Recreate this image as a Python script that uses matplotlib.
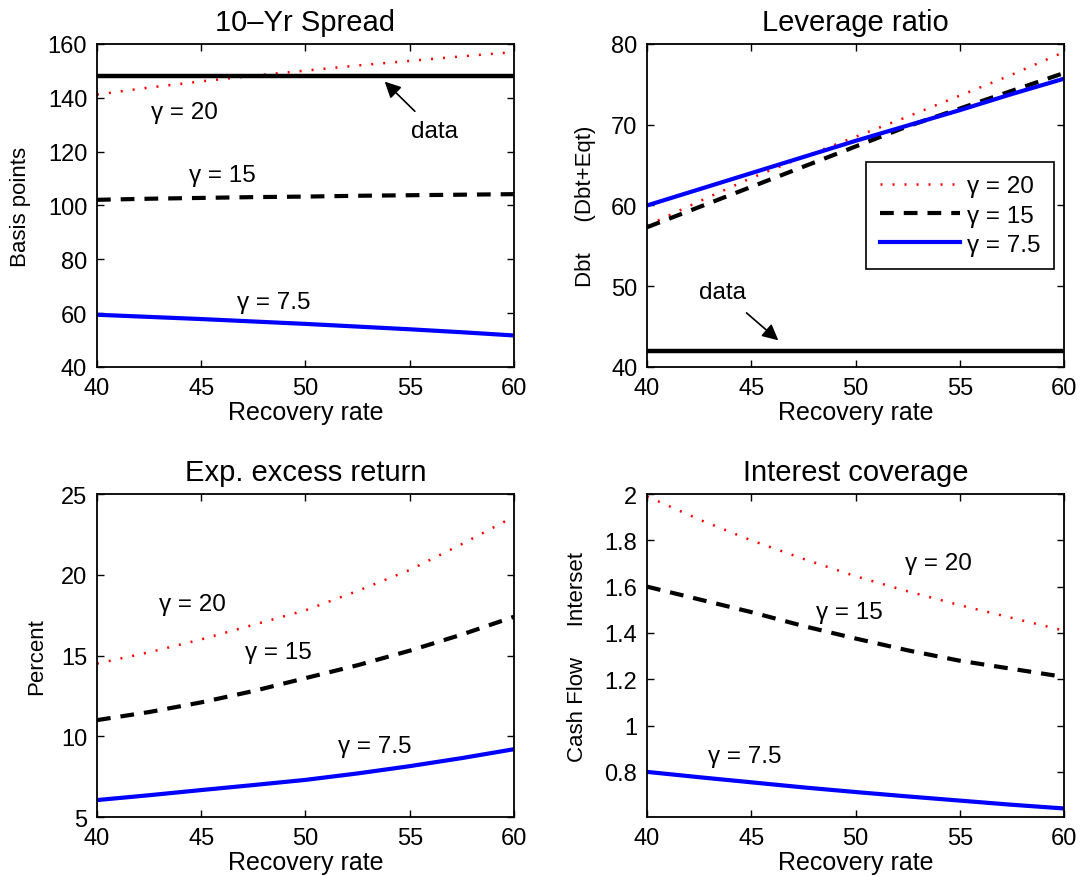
import matplotlib.pyplot as plt
from matplotlib.ticker import FormatStrFormatter

plt.rcParams['font.family'] = ['Liberation Sans', 'DejaVu Sans']

# recovery rate grid (read every 2.5)
rr = [40, 42.5, 45, 47.5, 50, 52.5, 55, 57.5, 60]

# 10-Yr spread (basis points)
spread_g20 = [141.2, 143.8, 146.1, 148.2, 150.1, 152.0, 153.7, 155.4, 157.0]
spread_g15 = [102.1, 102.5, 102.8, 103.1, 103.3, 103.6, 103.8, 104.0, 104.2]
spread_g75 = [59.4, 58.6, 57.8, 56.9, 56.0, 55.0, 54.0, 52.9, 51.7]
spread_data = 148

# leverage ratio
lev_g20 = [57.5, 60.5, 63.4, 66.0, 68.5, 71.0, 73.6, 76.2, 79.0]
lev_g15 = [57.3, 59.8, 62.3, 64.8, 67.3, 69.8, 72.0, 74.2, 76.4]
lev_g75 = [60.0, 62.0, 64.0, 66.0, 68.0, 69.9, 71.8, 73.8, 75.7]
lev_data = 42

# expected excess return (percent)
ret_g20 = [14.5, 15.2, 16.0, 16.9, 17.8, 19.0, 20.3, 21.9, 23.6]
ret_g15 = [11.0, 11.5, 12.1, 12.8, 13.6, 14.4, 15.3, 16.3, 17.4]
ret_g75 = [6.05, 6.35, 6.67, 6.98, 7.3, 7.7, 8.15, 8.65, 9.2]

# interest coverage
cov_g20 = [1.99, 1.89, 1.80, 1.72, 1.645, 1.58, 1.52, 1.465, 1.41]
cov_g15 = [1.60, 1.545, 1.49, 1.43, 1.376, 1.325, 1.28, 1.245, 1.21]
cov_g75 = [0.80, 0.777, 0.755, 0.733, 0.713, 0.694, 0.676, 0.658, 0.642]

labels = ['\u03b3 = 20', '\u03b3 = 15', '\u03b3 = 7.5']

fig = plt.figure(figsize=(10.81, 8.78), dpi=100)
ax1 = fig.add_axes([0.0897, 0.5809, 0.3858, 0.3679])
ax2 = fig.add_axes([0.5985, 0.5809, 0.3858, 0.3679])
ax3 = fig.add_axes([0.0897, 0.0683, 0.3858, 0.3679])
ax4 = fig.add_axes([0.5985, 0.0683, 0.3858, 0.3679])

red_style = dict(color='red', lw=1.8, linestyle=(0, (0.8, 4.0)))
blk_style = dict(color='black', lw=3, linestyle=(0, (3.3, 2.4)))
blu_style = dict(color='blue', lw=3, linestyle='-')
gsize = 17.5


def draw(ax, g20, g15, g75):
    l1, = ax.plot(rr, g20, **red_style)
    l2, = ax.plot(rr, g15, **blk_style)
    l3, = ax.plot(rr, g75, **blu_style)
    return l1, l2, l3


def style(ax, title, ylabel, ypad):
    ax.set_xlim(40, 60)
    ax.set_xticks([40, 45, 50, 55, 60])
    ax.tick_params(direction='in', top=True, right=True, length=5,
                   width=1, labelsize=17, pad=7)
    ax.set_title(title, fontsize=21, pad=10)
    ax.set_xlabel('Recovery rate', fontsize=18, labelpad=1)
    ax.set_ylabel(ylabel, fontsize=16, labelpad=ypad)
    for s in ax.spines.values():
        s.set_linewidth(1.3)


# 10-Yr Spread
draw(ax1, spread_g20, spread_g15, spread_g75)
ax1.axhline(spread_data, color='black', lw=3.2)
ax1.set_ylim(40, 160)
ax1.set_yticks(range(40, 161, 20))
style(ax1, '10\u2013Yr Spread', 'Basis points', 12)
ax1.text(44.2, 134.7, labels[0], fontsize=gsize, ha='center', va='center')
ax1.text(46.0, 111.2, labels[1], fontsize=gsize, ha='center', va='center')
ax1.text(48.5, 64.1, labels[2], fontsize=gsize, ha='center', va='center')
ax1.annotate('data', xy=(53.8, 146.0), xytext=(56.2, 127.7), fontsize=gsize,
             ha='center', va='center',
             arrowprops=dict(arrowstyle='-|>', color='black', lw=1.2,
                             mutation_scale=24, shrinkA=6, shrinkB=0))

# Leverage ratio
lines = draw(ax2, lev_g20, lev_g15, lev_g75)
ax2.axhline(lev_data, color='black', lw=3.2)
ax2.set_ylim(40, 80)
ax2.set_yticks(range(40, 81, 10))
style(ax2, 'Leverage ratio', 'Dbt     (Dbt+Eqt)', 11)
ax2.annotate('data', xy=(46.3, 43.3), xytext=(43.6, 49.3), fontsize=gsize,
             ha='center', va='center',
             arrowprops=dict(arrowstyle='-|>', color='black', lw=1.2,
                             mutation_scale=24, shrinkA=8, shrinkB=0))
leg = ax2.legend(lines, labels, loc='upper right',
                 bbox_to_anchor=(0.976, 0.635), borderaxespad=0,
                 fontsize=gsize, fancybox=False, edgecolor='black',
                 framealpha=1, handlelength=3.3, handletextpad=0.3,
                 labelspacing=0.3, borderpad=0.55)
leg.get_frame().set_linewidth(1.2)

# Exp. excess return
draw(ax3, ret_g20, ret_g15, ret_g75)
ax3.set_ylim(5, 25)
ax3.set_yticks(range(5, 26, 5))
style(ax3, 'Exp. excess return', 'Percent', 10)
ax3.text(44.6, 18.2, labels[0], fontsize=gsize, ha='center', va='center')
ax3.text(48.7, 15.2, labels[1], fontsize=gsize, ha='center', va='center')
ax3.text(53.3, 9.4, labels[2], fontsize=gsize, ha='center', va='center')

# Interest coverage
draw(ax4, cov_g20, cov_g15, cov_g75)
ax4.set_ylim(0.605, 2)
ax4.set_yticks([0.8, 1.0, 1.2, 1.4, 1.6, 1.8, 2.0])
ax4.yaxis.set_major_formatter(FormatStrFormatter('%g'))
style(ax4, 'Interest coverage', 'Cash Flow     Interset', 12)
ax4.text(54.0, 1.70, labels[0], fontsize=gsize, ha='center', va='center')
ax4.text(49.7, 1.49, labels[1], fontsize=gsize, ha='center', va='center')
ax4.text(44.7, 0.87, labels[2], fontsize=gsize, ha='center', va='center')

fig.savefig('out.png', dpi=100)
